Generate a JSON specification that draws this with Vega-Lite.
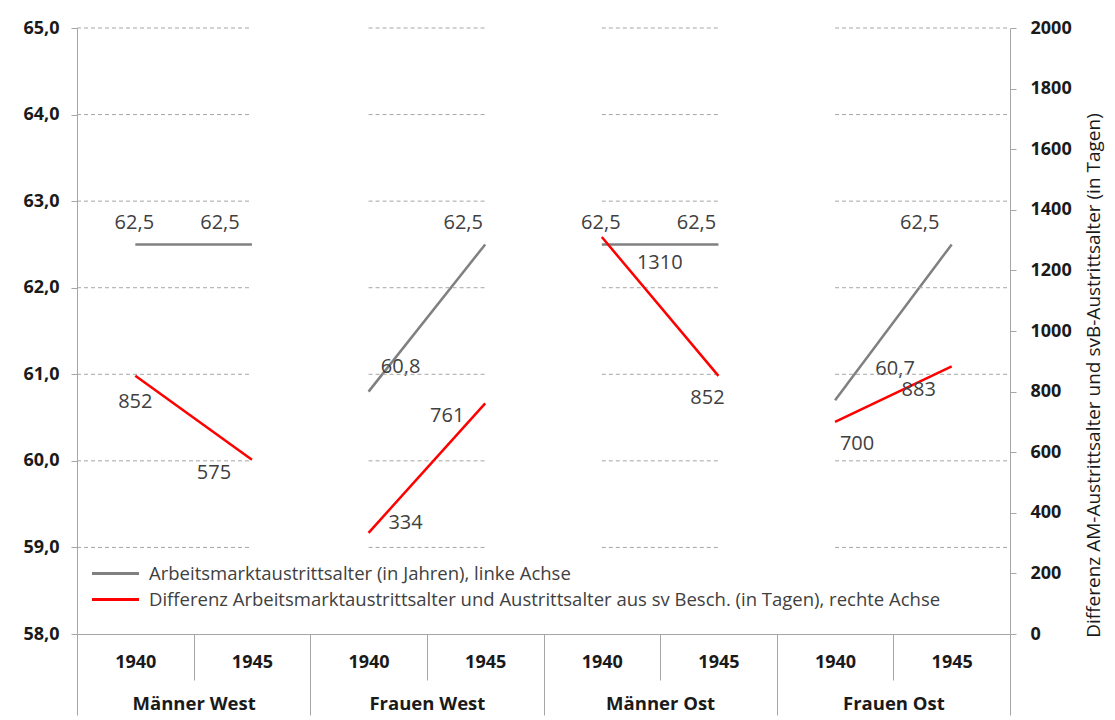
{
  "$schema": "https://vega.github.io/schema/vega-lite/v6.json",
  "width": 933,
  "height": 606,
  "autosize": {"type": "none"},
  "padding": {"left": 77, "top": 28, "right": 105, "bottom": 86},
  "background": "white",
  "config": {
    "view": {"stroke": null},
    "font": "Open Sans",
    "locale": {"number": {"decimal": ",", "thousands": ".", "grouping": [3], "currency": ["", " €"]}}
  },
  "datasets": {
    "main": [
      {"grp": "Männer West", "year": "1940", "cat": "Männer West|1940", "age": 62.5, "diff": 852},
      {"grp": "Männer West", "year": "1945", "cat": "Männer West|1945", "age": 62.5, "diff": 575},
      {"grp": "Frauen West", "year": "1940", "cat": "Frauen West|1940", "age": 60.8, "diff": 334},
      {"grp": "Frauen West", "year": "1945", "cat": "Frauen West|1945", "age": 62.5, "diff": 761},
      {"grp": "Männer Ost", "year": "1940", "cat": "Männer Ost|1940", "age": 62.5, "diff": 1310},
      {"grp": "Männer Ost", "year": "1945", "cat": "Männer Ost|1945", "age": 62.5, "diff": 852},
      {"grp": "Frauen Ost", "year": "1940", "cat": "Frauen Ost|1940", "age": 60.7, "diff": 700},
      {"grp": "Frauen Ost", "year": "1945", "cat": "Frauen Ost|1945", "age": 62.5, "diff": 883}
    ],
    "grid": [
      {"a": "Männer West|1940", "b": "Männer West|1945", "v": [59, 60, 61, 62, 63, 64, 65]},
      {"a": "Frauen West|1940", "b": "Frauen West|1945", "v": [59, 60, 61, 62, 63, 64, 65]},
      {"a": "Männer Ost|1940", "b": "Männer Ost|1945", "v": [59, 60, 61, 62, 63, 64, 65]},
      {"a": "Frauen Ost|1940", "b": "Frauen Ost|1945", "v": [59, 60, 61, 62, 63, 64, 65]}
    ]
  },
  "layer": [
    {
      "layer": [
        {
          "data": {"name": "main"},
          "encoding": {
            "x": {
              "field": "cat", "type": "nominal",
              "scale": {"domain": ["Männer West|1940", "Männer West|1945", "Frauen West|1940", "Frauen West|1945", "Männer Ost|1940", "Männer Ost|1945", "Frauen Ost|1940", "Frauen Ost|1945"]},
              "axis": {"orient": "bottom", "title": null, "labelExpr": "split(datum.label, '|')[1]", "labelAngle": 0, "tickBand": "extent", "tickSize": 46, "tickColor": "#a6a6a6", "domainColor": "#a6a6a6", "labelFont": "Open Sans", "labelFontWeight": "bold", "labelFontSize": 18, "labelColor": "#1a1a1a", "labelPadding": -27}
            },
            "y": {
              "field": "age", "type": "quantitative",
              "scale": {"domain": [58, 65], "nice": false, "zero": false},
              "axis": {"orient": "left", "title": null, "values": [58, 59, 60, 61, 62, 63, 64, 65], "format": ".1f", "grid": false, "domainColor": "#a6a6a6", "tickColor": "#a6a6a6", "tickSize": 6, "labelPadding": 12, "labelFont": "Open Sans", "labelFontWeight": "bold", "labelFontSize": 18, "labelColor": "#1a1a1a"}
            }
          },
          "layer": [
            {
              "mark": {"type": "line", "strokeWidth": 2.5},
              "encoding": {
                "detail": {"field": "grp"},
                "color": {
                  "datum": "Arbeitsmarktaustrittsalter (in Jahren), linke Achse", "type": "nominal",
                  "scale": {"domain": ["Arbeitsmarktaustrittsalter (in Jahren), linke Achse", "Differenz Arbeitsmarktaustrittsalter und Austrittsalter aus sv Besch. (in Tagen), rechte Achse"], "range": ["#808080", "#ff0000"]},
                  "legend": {"orient": "none", "legendX": 25, "legendY": 532, "title": null, "symbolType": "M-2,0H2", "symbolStrokeWidth": 3, "symbolSize": 552, "labelFont": "Open Sans", "labelFontSize": 18.5, "labelColor": "#404040", "labelLimit": 1000, "rowPadding": 3, "labelOffset": 20}
                }
              }
            },
            {
              "transform": [{"filter": "datum.cat == 'Männer West|1940' || datum.cat == 'Männer Ost|1940'"}],
              "mark": {"type": "text", "font": "Open Sans", "fontSize": 20, "fill": "#404040", "dx": -1, "dy": -21},
              "encoding": {"text": {"field": "age", "type": "quantitative", "format": ".1f"}}
            },
            {
              "transform": [{"filter": "datum.cat == 'Männer West|1945' || datum.cat == 'Frauen Ost|1945'"}],
              "mark": {"type": "text", "font": "Open Sans", "fontSize": 20, "fill": "#404040", "dx": -32, "dy": -21},
              "encoding": {"text": {"field": "age", "type": "quantitative", "format": ".1f"}}
            },
            {
              "transform": [{"filter": "datum.cat == 'Frauen West|1945' || datum.cat == 'Männer Ost|1945'"}],
              "mark": {"type": "text", "font": "Open Sans", "fontSize": 20, "fill": "#404040", "dx": -22, "dy": -21},
              "encoding": {"text": {"field": "age", "type": "quantitative", "format": ".1f"}}
            },
            {
              "transform": [{"filter": "datum.cat == 'Frauen West|1940'"}],
              "mark": {"type": "text", "font": "Open Sans", "fontSize": 20, "fill": "#404040", "dx": 32, "dy": -25},
              "encoding": {"text": {"field": "age", "type": "quantitative", "format": ".1f"}}
            },
            {
              "transform": [{"filter": "datum.cat == 'Frauen Ost|1940'"}],
              "mark": {"type": "text", "font": "Open Sans", "fontSize": 20, "fill": "#404040", "dx": 60, "dy": -31},
              "encoding": {"text": {"field": "age", "type": "quantitative", "format": ".1f"}}
            }
          ]
        },
        {
          "data": {"name": "grid"},
          "transform": [{"flatten": ["v"]}, {"filter": "datum.a == 'Männer West|1940'"}],
          "mark": {"type": "rule", "stroke": "#a6a6a6", "strokeWidth": 1, "strokeDash": [4, 3]},
          "encoding": {
            "x": {"field": "a", "type": "nominal", "bandPosition": 0, "scale": {"domain": ["Männer West|1940", "Männer West|1945", "Frauen West|1940", "Frauen West|1945", "Männer Ost|1940", "Männer Ost|1945", "Frauen Ost|1940", "Frauen Ost|1945"]}},
            "x2": {"field": "b"},
            "y": {"field": "v", "type": "quantitative", "scale": {"domain": [58, 65], "nice": false, "zero": false}}
          }
        },
        {
          "data": {"name": "grid"},
          "transform": [{"flatten": ["v"]}, {"filter": "datum.a == 'Frauen West|1940' || datum.a == 'Männer Ost|1940'"}],
          "mark": {"type": "rule", "stroke": "#a6a6a6", "strokeWidth": 1, "strokeDash": [4, 3]},
          "encoding": {
            "x": {"field": "a", "type": "nominal", "scale": {"domain": ["Männer West|1940", "Männer West|1945", "Frauen West|1940", "Frauen West|1945", "Männer Ost|1940", "Männer Ost|1945", "Frauen Ost|1940", "Frauen Ost|1945"]}},
            "x2": {"field": "b"},
            "y": {"field": "v", "type": "quantitative", "scale": {"domain": [58, 65], "nice": false, "zero": false}}
          }
        },
        {
          "data": {"name": "grid"},
          "transform": [{"flatten": ["v"]}, {"filter": "datum.a == 'Frauen Ost|1940'"}],
          "mark": {"type": "rule", "stroke": "#a6a6a6", "strokeWidth": 1, "strokeDash": [4, 3]},
          "encoding": {
            "x": {"field": "a", "type": "nominal", "scale": {"domain": ["Männer West|1940", "Männer West|1945", "Frauen West|1940", "Frauen West|1945", "Männer Ost|1940", "Männer Ost|1945", "Frauen Ost|1940", "Frauen Ost|1945"]}},
            "x2": {"field": "b", "bandPosition": 1},
            "y": {"field": "v", "type": "quantitative", "scale": {"domain": [58, 65], "nice": false, "zero": false}}
          }
        }
      ]
    },
    {
      "data": {"name": "main"},
      "encoding": {
        "x": {
          "field": "cat", "type": "nominal",
          "scale": {"domain": ["Männer West|1940", "Männer West|1945", "Frauen West|1940", "Frauen West|1945", "Männer Ost|1940", "Männer Ost|1945", "Frauen Ost|1940", "Frauen Ost|1945"]},
          "axis": null
        },
        "y": {
          "field": "diff", "type": "quantitative",
          "scale": {"domain": [0, 2000], "nice": false},
          "axis": {"orient": "right", "values": [0, 200, 400, 600, 800, 1000, 1200, 1400, 1600, 1800, 2000], "format": "d", "grid": false, "domainColor": "#a6a6a6", "tickColor": "#a6a6a6", "tickSize": 6, "labelPadding": 14, "labelFont": "Open Sans", "labelFontWeight": "bold", "labelFontSize": 18, "labelColor": "#1a1a1a", "title": "Differenz AM-Austrittsalter und svB-Austrittsalter (in Tagen)", "titleAngle": 270, "titleFont": "Open Sans", "titleFontWeight": "normal", "titleFontSize": 19, "titleColor": "#1a1a1a", "titlePadding": 32, "titleY": 347}
        }
      },
      "layer": [
        {
          "mark": {"type": "line", "strokeWidth": 2.5},
          "encoding": {
            "detail": {"field": "grp"},
            "color": {"datum": "Differenz Arbeitsmarktaustrittsalter und Austrittsalter aus sv Besch. (in Tagen), rechte Achse", "type": "nominal"}
          }
        },
        {
          "transform": [{"filter": "datum.cat == 'Männer West|1940'"}],
          "mark": {"type": "text", "font": "Open Sans", "fontSize": 20, "fill": "#404040", "dx": 0, "dy": 26},
          "encoding": {"text": {"field": "diff", "type": "quantitative", "format": "d"}}
        },
        {
          "transform": [{"filter": "datum.cat == 'Männer West|1945' || datum.cat == 'Frauen West|1945'"}],
          "mark": {"type": "text", "font": "Open Sans", "fontSize": 20, "fill": "#404040", "dx": -38, "dy": 13},
          "encoding": {"text": {"field": "diff", "type": "quantitative", "format": "d"}}
        },
        {
          "transform": [{"filter": "datum.cat == 'Frauen West|1940'"}],
          "mark": {"type": "text", "font": "Open Sans", "fontSize": 20, "fill": "#404040", "dx": 37, "dy": -10},
          "encoding": {"text": {"field": "diff", "type": "quantitative", "format": "d"}}
        },
        {
          "transform": [{"filter": "datum.cat == 'Männer Ost|1940'"}],
          "mark": {"type": "text", "font": "Open Sans", "fontSize": 20, "fill": "#404040", "dx": 58, "dy": 26},
          "encoding": {"text": {"field": "diff", "type": "quantitative", "format": "d"}}
        },
        {
          "transform": [{"filter": "datum.cat == 'Männer Ost|1945'"}],
          "mark": {"type": "text", "font": "Open Sans", "fontSize": 20, "fill": "#404040", "dx": -11, "dy": 22},
          "encoding": {"text": {"field": "diff", "type": "quantitative", "format": "d"}}
        },
        {
          "transform": [{"filter": "datum.cat == 'Frauen Ost|1940'"}],
          "mark": {"type": "text", "font": "Open Sans", "fontSize": 20, "fill": "#404040", "dx": 22, "dy": 22},
          "encoding": {"text": {"field": "diff", "type": "quantitative", "format": "d"}}
        },
        {
          "transform": [{"filter": "datum.cat == 'Frauen Ost|1945'"}],
          "mark": {"type": "text", "font": "Open Sans", "fontSize": 20, "fill": "#404040", "dx": -33, "dy": 24},
          "encoding": {"text": {"field": "diff", "type": "quantitative", "format": "d"}}
        }
      ]
    },
    {
      "data": {"name": "main"},
      "mark": {"type": "text", "text": ""},
      "encoding": {
        "x": {
          "field": "grp", "type": "nominal",
          "scale": {"domain": ["Männer West", "Frauen West", "Männer Ost", "Frauen Ost"]},
          "axis": {"orient": "bottom", "title": null, "offset": 11, "domain": false, "tickBand": "extent", "tickSize": 70, "tickColor": "#a6a6a6", "labelAngle": 0, "labelFont": "Open Sans", "labelFontWeight": "bold", "labelFontSize": 18.5, "labelColor": "#1a1a1a", "labelPadding": -21}
        }
      }
    }
  ],
  "resolve": {"scale": {"y": "independent", "x": "independent"}}
}
